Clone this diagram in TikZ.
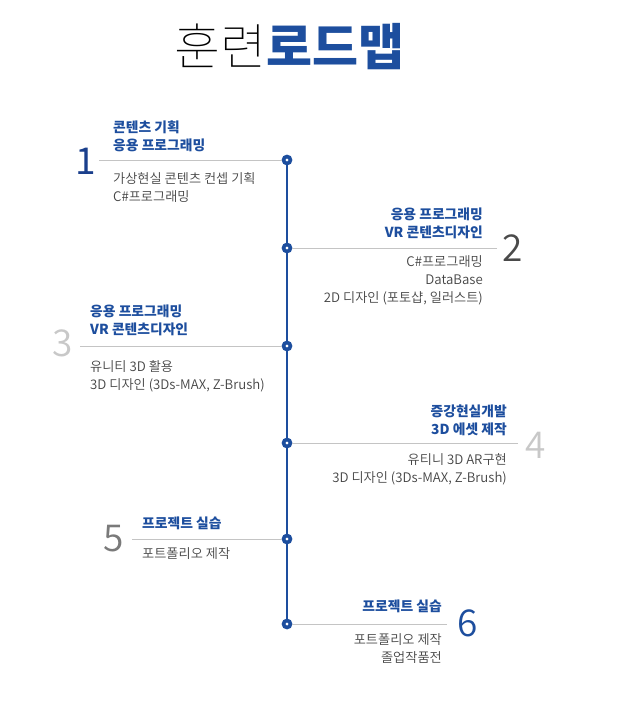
\documentclass[tikz,border=0pt]{standalone}
\usepackage{fontspec}
\setmainfont{Noto Sans CJK KR}
\newfontfamily\thinfont{Noto Sans CJK KR Thin}
\newfontfamily\demifont{Noto Sans CJK KR DemiLight}
\newfontfamily\blackfont{Noto Sans CJK KR Black}
\definecolor{roadblue}{HTML}{1D4E9E}
\definecolor{navy}{HTML}{1A3F8C}
\definecolor{subgray}{HTML}{444444}
\definecolor{rulegray}{HTML}{C4C4C4}
\definecolor{numdark}{HTML}{4A4A4A}
\definecolor{numlight}{HTML}{C8C8C8}
\definecolor{nummid}{HTML}{7A7A7A}
\tikzset{
  dot/.style={circle,draw=roadblue,fill=white,line width=3.6pt,minimum size=7pt,inner sep=0pt},
  spine/.style={draw=roadblue,line width=1.1pt},
  rule/.style={draw=rulegray,line width=0.8pt},
  ttl/.style={inner sep=0pt,text=roadblue,font=\fontsize{13.8}{18}\selectfont\bfseries},
  sub/.style={inner sep=0pt,text=subgray,font=\demifont\fontsize{13.2}{18}\selectfont},
  num/.style={inner sep=0pt,anchor=north,font=\demifont\fontsize{37}{37}\selectfont}
}
\begin{document}
\begin{tikzpicture}[x=1pt,y=-1pt]
\useasboundingbox (0,0) rectangle (634,711);
% tiêu đề
\node[inner sep=0pt,font=\fontsize{50}{50}\selectfont] (head) at (289,47)
  {{\thinfont\color{black}훈련}{\blackfont\color{roadblue}로드맵}};
% các chấm trên trục
\foreach \i/\y in {1/160,2/248,3/346,4/443,5/539,6/624}
  \node[dot] (p\i) at (287,\y) {};
\foreach \i [evaluate=\i as \j using int(\i+1)] in {1,...,5}
  \draw[spine] (p\i)--(p\j);
% đầu mút các vạch ngang
\coordinate (e1) at (99,160);  \coordinate (e2) at (497,248);
\coordinate (e3) at (80,346);  \coordinate (e4) at (518,443);
\coordinate (e5) at (132,539); \coordinate (e6) at (447,624);
\foreach \i in {1,...,6} \draw[rule] (e\i)--(p\i);
% mục 1
\node[num,text=navy,font=\fontsize{37}{37}\selectfont] (n1) at (85.5,148) {1};
\node[ttl,anchor=north west,align=left] (t1) at (113,121) {콘텐츠 기획\\응용 프로그래밍};
\node[sub,anchor=north west,align=left] (s1) at (113,172) {가상현실 콘텐츠 컨셉 기획\\C\#프로그래밍};
% mục 2
\node[num,text=numdark] (n2) at (513,235) {2};
\node[ttl,anchor=north east,align=right] (t2) at (483,208) {응용 프로그래밍\\VR 콘텐츠디자인};
\node[sub,anchor=north east,align=right] (s2) at (483,255) {C\#프로그래밍\\DataBase\\2D 디자인 (포토샵, 일러스트)};
% mục 3
\node[num,text=numlight] (n3) at (62.5,330) {3};
\node[ttl,anchor=north west,align=left] (t3) at (90,305) {응용 프로그래밍\\VR 콘텐츠디자인};
\node[sub,anchor=north west,align=left] (s3) at (90,360) {유니티 3D 활용\\3D 디자인 (3Ds-MAX, Z-Brush)};
% mục 4
\node[num,text=numlight] (n4) at (536,432) {4};
\node[ttl,anchor=north east,align=right] (t4) at (507,405) {증강현실개발\\3D 에셋 제작};
\node[sub,anchor=north east,align=right] (s4) at (507,453) {유티니 3D AR구현\\3D 디자인 (3Ds-MAX, Z-Brush)};
% mục 5
\node[num,text=nummid] (n5) at (114,525) {5};
\node[ttl,anchor=north west] (t5) at (142,517) {프로젝트 실습};
\node[sub,anchor=north west] (s5) at (142,547) {포트폴리오 제작};
% mục 6
\node[num,text=roadblue] (n6) at (468,610) {6};
\node[ttl,anchor=north east] (t6) at (442,600) {프로젝트 실습};
\node[sub,anchor=north east,align=right] (s6) at (442,633) {포트폴리오 제작\\졸업작품전};
\end{tikzpicture}
\end{document}
